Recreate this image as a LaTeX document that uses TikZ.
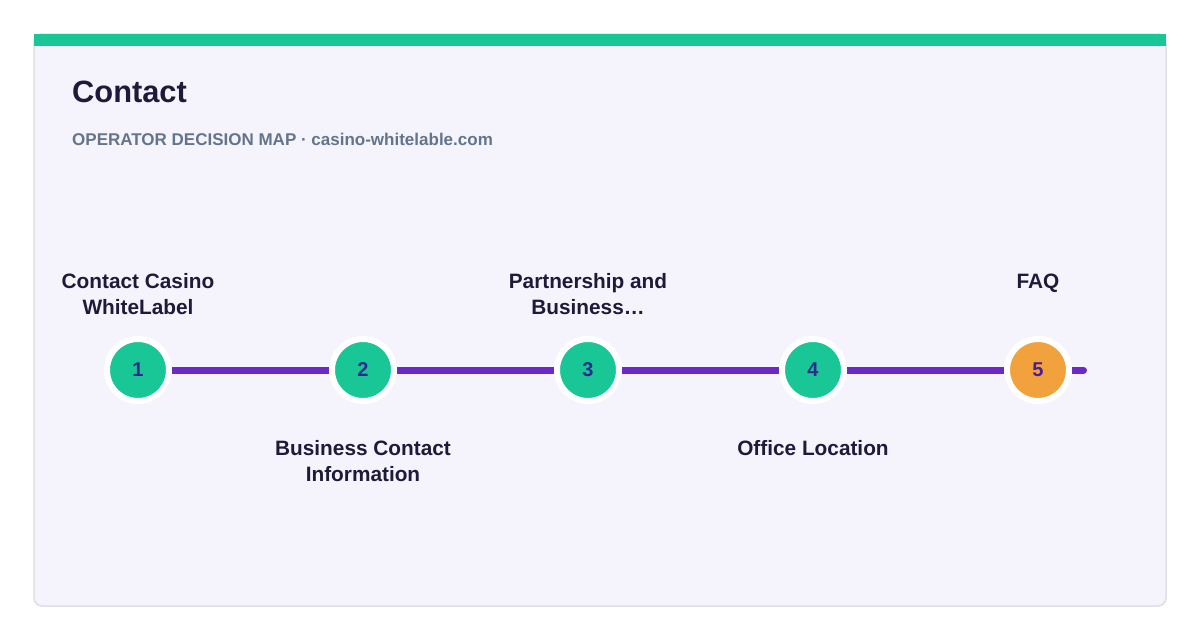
\documentclass[tikz,border=0pt]{standalone}
\usepackage{fontspec}
\setmainfont{Liberation Sans}
\usetikzlibrary{positioning}

\definecolor{cardbg}{HTML}{F5F3FB}
\definecolor{cardrim}{HTML}{E0DEE8}
\definecolor{mint}{HTML}{18C795}
\definecolor{amber}{HTML}{F2A23C}
\definecolor{track}{HTML}{6D28C9}
\definecolor{ink}{HTML}{1E1B3A}
\definecolor{slate}{HTML}{64748B}
\definecolor{numink}{HTML}{2E2A8F}
\definecolor{numlast}{HTML}{4C1D95}

\tikzset{stepdot/.style={circle,draw=white,line width=6pt,fill=mint,minimum size=62pt,inner sep=0pt,
		font=\fontsize{20}{20}\selectfont\bfseries,text=numink}}
\tikzset{lastdot/.style={stepdot,fill=amber,text=numlast}}
\tikzset{steplabel/.style={align=center,inner sep=0pt,anchor=north,text=ink,
		font=\fontsize{20.8}{25.5}\selectfont\bfseries}}

\begin{document}
\begin{tikzpicture}[x=1pt,y=-1pt]
	\useasboundingbox (0,0) rectangle (1200,640);
	\fill[white] (0,0) rectangle (1200,640);
	% card and top bar
	\draw[fill=cardbg,draw=cardrim,line width=1.5pt,rounded corners=8pt] (34,34) rectangle (1166,606);
	\fill[mint] (34,34) rectangle (1166,45.5);
	\node[anchor=base west,inner sep=0pt,text=ink,font=\fontsize{30.8}{30.8}\selectfont\bfseries] (title) at (72,102) {Contact};
	\node[anchor=base west,inner sep=0pt,text=slate,font=\fontsize{17}{17}\selectfont\bfseries] (sub) at (72,145) {OPERATOR DECISION MAP · casino-whitelable.com};
	% track
	\coordinate (tail) at (1083.5,370);
	\draw[track,line width=7pt,line cap=round] (138,370) -- (tail);
	\foreach \nr/\txt in {1/{Contact Casino\\WhiteLabel},2/{Business Contact\\Information},3/{Partnership and\\Business\ldots},4/{Office Location},5/{FAQ}}{
		\pgfmathsetmacro{\xx}{138+(\nr-1)*225}
		\ifnum\nr=5
			\node[lastdot] (S\nr) at (\xx,370) {\nr};
		\else
			\node[stepdot] (S\nr) at (\xx,370) {\nr};
		\fi
		\ifodd\nr
			\node[steplabel] (L\nr) at (\xx,273.5) {\txt};
		\else
			\node[steplabel] (L\nr) at (\xx,440.5) {\txt};
		\fi
	}
\end{tikzpicture}
\end{document}
